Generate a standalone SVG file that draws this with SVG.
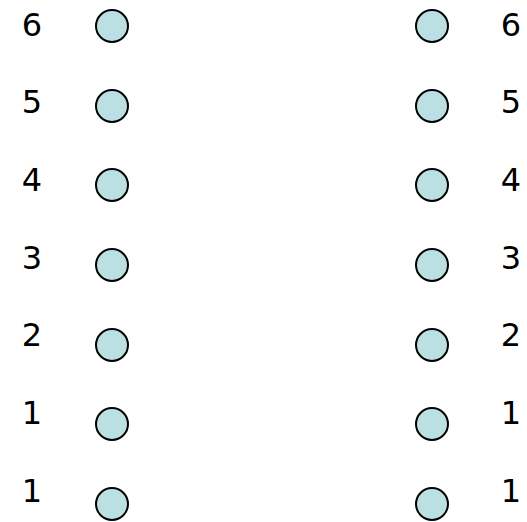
<svg xmlns="http://www.w3.org/2000/svg" width="527" height="522" viewBox="0 0 527 522">
<style>
.n{fill:#BBE0E3;stroke:#000;stroke-width:2}
.t{font-family:"Comic Sans MS","DejaVu Sans",sans-serif;font-size:32px;fill:#000;text-anchor:middle}
</style>
<rect width="527" height="522" fill="#fff"/>
<g id="left">
<g id="L6"><text class="t" x="32" y="36">6</text><circle class="n" cx="112" cy="26" r="16"/></g>
<g id="L5"><text class="t" x="32" y="113">5</text><circle class="n" cx="112" cy="106" r="16"/></g>
<g id="L4"><text class="t" x="32" y="191">4</text><circle class="n" cx="112" cy="185" r="16"/></g>
<g id="L3"><text class="t" x="32" y="269">3</text><circle class="n" cx="112" cy="265" r="16"/></g>
<g id="L2"><text class="t" x="32" y="346">2</text><circle class="n" cx="112" cy="345" r="16"/></g>
<g id="L1a"><text class="t" x="32" y="424">1</text><circle class="n" cx="112" cy="424" r="16"/></g>
<g id="L1b"><text class="t" x="32" y="502">1</text><circle class="n" cx="112" cy="504" r="16"/></g>
</g>
<g id="right">
<g id="R6"><circle class="n" cx="432" cy="26" r="16"/><text class="t" x="511" y="36">6</text></g>
<g id="R5"><circle class="n" cx="432" cy="106" r="16"/><text class="t" x="511" y="113">5</text></g>
<g id="R4"><circle class="n" cx="432" cy="185" r="16"/><text class="t" x="511" y="191">4</text></g>
<g id="R3"><circle class="n" cx="432" cy="265" r="16"/><text class="t" x="511" y="269">3</text></g>
<g id="R2"><circle class="n" cx="432" cy="345" r="16"/><text class="t" x="511" y="346">2</text></g>
<g id="R1a"><circle class="n" cx="432" cy="424" r="16"/><text class="t" x="511" y="424">1</text></g>
<g id="R1b"><circle class="n" cx="432" cy="504" r="16"/><text class="t" x="511" y="502">1</text></g>
</g>
<g id="connectors"/>
</svg>
